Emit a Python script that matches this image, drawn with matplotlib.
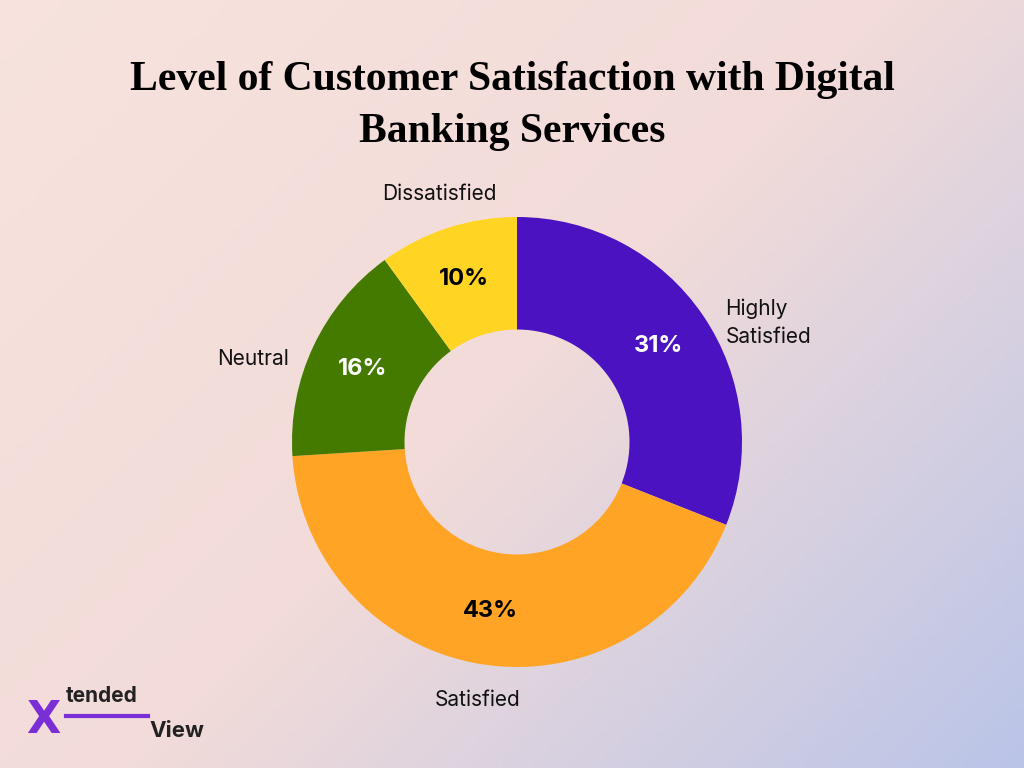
import numpy as np
import matplotlib.pyplot as plt

categories = ['Highly\nSatisfied', 'Satisfied', 'Neutral', 'Dissatisfied']
shares = [31, 43, 16, 10]
colors = ['#4a12c0', '#ffa424', '#457a00', '#ffd423']
pct_colors = ['white', 'black', 'white', 'black']

fig = plt.figure(figsize=(10.24, 7.68), dpi=100)

# gradient background
bg = fig.add_axes([0, 0, 1, 1])
yy, xx = np.mgrid[0:1:200j, 0:1:200j]
t = np.clip((xx * 0.8 + yy * 0.6) / 1.4, 0, 1)[..., None]
c0 = np.array([0.97, 0.89, 0.87])
c1 = np.array([0.95, 0.86, 0.85])
c2 = np.array([0.73, 0.77, 0.91])
img = np.where(t < 0.5, c0 + (c1 - c0) * t * 2, c1 + (c2 - c1) * (t - 0.5) * 2)
bg.imshow(img, extent=[0, 1, 0, 1], aspect='auto', origin='upper')
bg.axis('off')

fig.text(0.5, 0.862, 'Level of Customer Satisfaction with Digital\nBanking Services',
         ha='center', va='center', fontsize=30, fontweight='bold',
         family='Liberation Serif', linespacing=1.45)

# donut: center (517, 442), outer radius 225 px
r_px = 225
ax = fig.add_axes([(517 - r_px) / 1024, (768 - 442 - r_px) / 768,
                   2 * r_px / 1024, 2 * r_px / 768])
wedges, _ = ax.pie(shares, colors=colors, startangle=90, counterclock=False,
                   wedgeprops=dict(width=0.5, edgecolor='none'))
ax.set_aspect('equal')
ax.set_xlim(-1, 1)
ax.set_ylim(-1, 1)

for w, s, lab, pc in zip(wedges, shares, categories, pct_colors):
    ang = np.deg2rad((w.theta1 + w.theta2) / 2)
    ax.text(0.76 * np.cos(ang), 0.76 * np.sin(ang), f'{s}%', ha='center', va='center',
            fontsize=17, fontweight='bold', color=pc, family='Inter')
    cx, sy = np.cos(ang), np.sin(ang)
    lx = 1.12 * cx
    ly = 1.12 * sy - 0.12 * abs(cx) if abs(cx) > 0.5 else 1.16 * sy
    ha = 'left' if lx > 0.5 else ('right' if lx < -0.5 else 'center')
    ax.text(lx, ly, lab, ha=ha, va='center', fontsize=15, color='#111111',
            family='Inter', clip_on=False, linespacing=1.5)

# logo
fig.text(0.026, 0.062, 'X', fontsize=32, fontweight='bold', color='#7a2ed6',
         family='DejaVu Sans', va='center')
fig.text(0.064, 0.094, 'tended', fontsize=15, fontweight='bold', color='#222222',
         family='Inter', va='center')
fig.text(0.146, 0.048, 'View', fontsize=16, fontweight='bold', color='#222222',
         family='Inter', va='center')
fig.add_artist(plt.Line2D([0.064, 0.145], [0.068, 0.068], color='#7a2ed6', lw=3))

fig.savefig('out.png', dpi=100)
